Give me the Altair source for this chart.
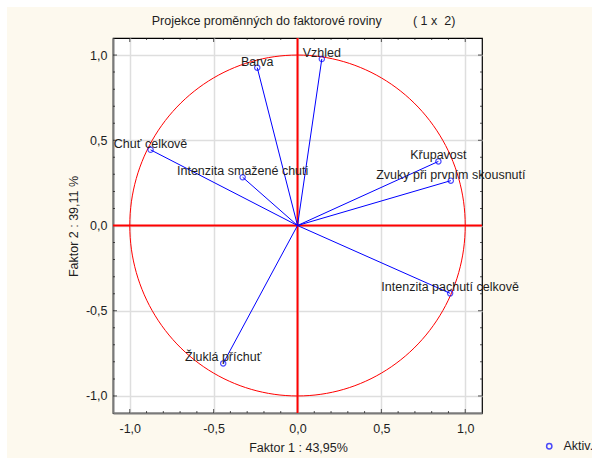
import altair as alt
import pandas as pd

# Variable loadings on factors 1 and 2
variables = [
    "Vzhled",
    "Barva",
    "Chuť celkově",
    "Intenzita smažené chuti",
    "Křupavost",
    "Zvuky při prvním skousnutí",
    "Intenzita pachutí celkově",
    "Žluklá příchuť",
]
factor1 = [0.145, -0.24, -0.876, -0.327, 0.84, 0.914, 0.91, -0.443]
factor2 = [0.977, 0.926, 0.444, 0.283, 0.376, 0.263, -0.398, -0.809]
label_dx = [0, 0, 0, 0, 0, -15, 0, 0]

tick_values = [round(-1.0 + 0.1 * i, 1) for i in range(21)]
label_values = [-1.0, -0.5, 0.0, 0.5, 1.0]

# Zero lines drawn as two-point segments across the full domain
zero_seg = ["v", "v", "h", "h"]
zero_x = [0.0, 0.0, -1.1, 1.1]
zero_y = [-1.1, 1.1, 0.0, 0.0]

W, H = 369, 375
FONT = "Liberation Sans"
TXT = "#1e1e1e"
BLUE = "#0000ff"
RED = "#ff0000"
CREAM = "#fdf9ee"

df = pd.DataFrame({"var": variables, "f1": factor1, "f2": factor2,
                   "dx": label_dx, "group": "Aktiv."})
ticks_df = pd.DataFrame({"v": tick_values})
zero_df = pd.DataFrame({"seg": zero_seg, "zx": zero_x, "zy": zero_y})

# Each loading vector as a two-point path: origin, then the loading
vec_df = pd.concat([
    pd.DataFrame({"var": variables, "step": 0, "vx": 0.0, "vy": 0.0}),
    pd.DataFrame({"var": variables, "step": 1, "vx": factor1, "vy": factor2}),
])

dom = [-1.1, 1.1]
xs = alt.Scale(domain=dom, nice=False, zero=False)
ys = alt.Scale(domain=dom, nice=False, zero=False)

comma = "(datum.value < -0.001 ? '-' : '') + replace(format(abs(datum.value), '.1f'), '.', ',')"

x_main = alt.Axis(values=label_values, labelExpr=comma, ticks=False, grid=True,
                  gridColor="#dedede", gridWidth=1.5, domainColor="#7a7a7a",
                  domainWidth=2, labelFont=FONT, labelFontSize=12.5,
                  labelColor=TXT, labelPadding=9, title="Faktor 1 : 43,95%",
                  titleFont=FONT, titleFontSize=12.5, titleFontWeight="normal",
                  titleColor=TXT, titleX=185, titleY=34, titleBaseline="middle",
                  titleAlign="center")
y_main = alt.Axis(values=label_values, labelExpr=comma, ticks=False, grid=True,
                  gridColor="#dedede", gridWidth=1.5, domainColor="#7a7a7a",
                  domainWidth=2, labelFont=FONT, labelFontSize=12.5,
                  labelColor=TXT, labelPadding=6, title="Faktor 2 : 39,11 %",
                  titleFont=FONT, titleFontSize=12.5, titleFontWeight="normal",
                  titleColor=TXT, titleX=-40, titleY=188, titleAngle=270,
                  titleBaseline="middle", titleAlign="center")

X = lambda f: alt.X(f, scale=xs, axis=x_main)
Y = lambda f: alt.Y(f, scale=ys, axis=y_main)

# White margin strips along the top and left of the cream panel
strip_left = alt.Chart(pd.DataFrame({"a": [0]})).mark_rect(
    color="white", clip=False
).encode(x=alt.value(-113), x2=alt.value(-106), y=alt.value(-38), y2=alt.value(H + 45))
strip_top = alt.Chart(pd.DataFrame({"a": [0]})).mark_rect(
    color="white", clip=False
).encode(x=alt.value(-113), x2=alt.value(W + 110), y=alt.value(-38), y2=alt.value(-31))

# Unit circle
circle = alt.Chart(alt.sequence(0, 362, 2, as_="deg")).transform_calculate(
    cx="cos(datum.deg * PI / 180)", cy="sin(datum.deg * PI / 180)"
).mark_line(color=RED, strokeWidth=1).encode(
    x=X("cx:Q"), y=Y("cy:Q"), order="deg:Q",
)

# Inward tick marks on all four frame edges (clipped to the plot area)
tick_base = alt.Chart(ticks_df).transform_calculate(
    len="abs(datum.v * 2 - round(datum.v * 2)) < 0.001 ? 8 : 4"
)
tick_style = dict(color="#111111", thickness=1, clip=True)
ticks_bottom = tick_base.mark_tick(orient="vertical", **tick_style).encode(
    x=X("v:Q"), y=alt.value(H), size=alt.Size("len:Q", scale=None, legend=None))
ticks_top = tick_base.mark_tick(orient="vertical", **tick_style).encode(
    x=X("v:Q"), y=alt.value(0), size=alt.Size("len:Q", scale=None, legend=None))
ticks_left = tick_base.mark_tick(orient="horizontal", **tick_style).encode(
    y=Y("v:Q"), x=alt.value(0), size=alt.Size("len:Q", scale=None, legend=None))
ticks_right = tick_base.mark_tick(orient="horizontal", **tick_style).encode(
    y=Y("v:Q"), x=alt.value(W), size=alt.Size("len:Q", scale=None, legend=None))

# Red zero lines through the origin
zero_lines = alt.Chart(zero_df).mark_line(color=RED, strokeWidth=2).encode(
    x=X("zx:Q"), y=Y("zy:Q"), detail="seg:N")

# Loading vectors from the origin
vectors = alt.Chart(vec_df).mark_line(color=BLUE, strokeWidth=1).encode(
    x=X("vx:Q"), y=Y("vy:Q"), detail="var:N", order="step:Q")

points = alt.Chart(df).mark_point(shape="circle", filled=False, size=28,
                                  strokeWidth=1.2).encode(
    x=X("f1:Q"),
    y=Y("f2:Q"),
    color=alt.Color("group:N", scale=alt.Scale(domain=["Aktiv."], range=[BLUE]),
                    legend=alt.Legend(title=None, orient="none", legendX=430,
                                      legendY=402, labelFont=FONT,
                                      labelFontSize=12.5, labelColor=TXT,
                                      symbolSize=28, symbolStrokeWidth=1.5,
                                      labelOffset=8)),
)

labels = alt.Chart(df).mark_text(font=FONT, fontSize=12.5, color=TXT,
                                 align="center", baseline="alphabetic",
                                 dy=-2).encode(
    x=X("f1:Q"),
    y=Y("f2:Q"),
    text="var:N",
    xOffset=alt.XOffset("dx:Q", scale=None),
)

chart = alt.layer(
    strip_left, strip_top, circle,
    ticks_bottom, ticks_top, ticks_left, ticks_right,
    zero_lines, vectors, points, labels
).properties(
    width=W, height=H,
    title=alt.Title(
        "Projekce proměnných do faktorové roviny" + "\u00a0" * 9 + "(\u00a01\u00a0x\u00a0\u00a02)",
        font=FONT, fontSize=12.5, fontWeight="normal", color=TXT,
        anchor="middle", dx=6, offset=-37, baseline="alphabetic", frame="group"),
    background=CREAM,
    padding={"left": 113, "top": 38, "right": 110, "bottom": 45},
    autosize=alt.AutoSizeParams(type="none"),
).configure_view(stroke="#000000", strokeWidth=1.2, fill="white")

chart.save("out.html", embed_options={"renderer": "svg", "actions": False})
